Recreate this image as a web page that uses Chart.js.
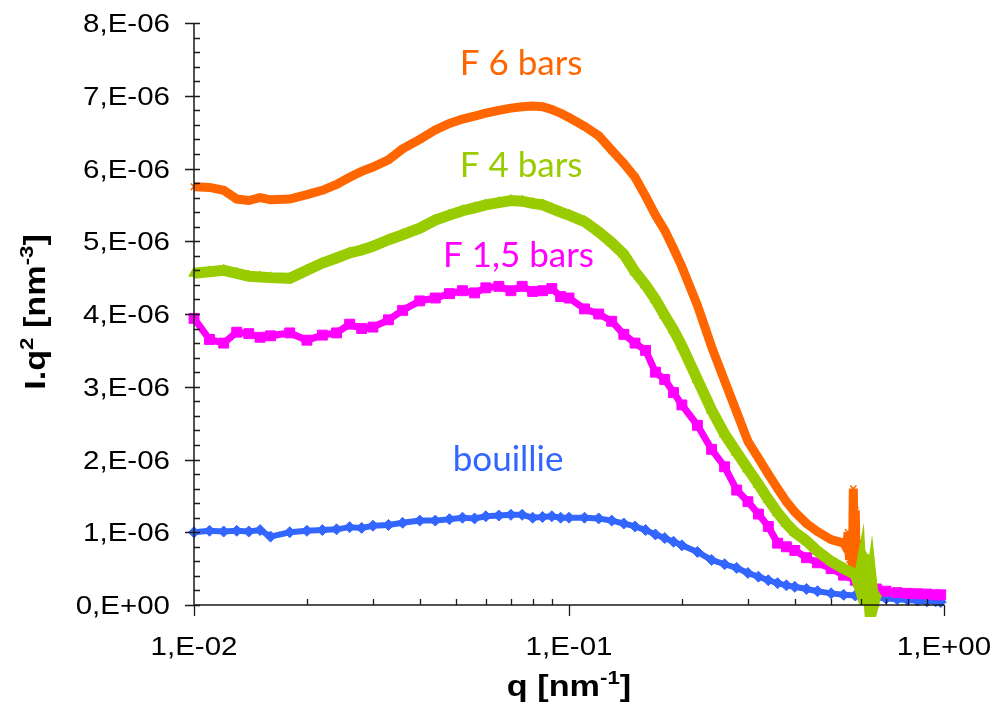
<!DOCTYPE html>
<html><head><meta charset="utf-8">
<script src="https://cdn.jsdelivr.net/npm/chart.js@4.4.1/dist/chart.umd.min.js"></script>
<style>html,body{margin:0;padding:0;background:#fff;}#wrap{width:993px;height:705px;}</style>
</head><body><div id="wrap"><canvas id="c" width="993" height="705"></canvas></div>
<script>
// ---- data (intensity values in units of 1E-06 nm^-3) ----
const qGrid = [0.010,0.011,0.012,0.013,0.014,0.015,0.016,0.018,0.020,0.022,0.024,0.026,0.028,0.030,0.033,0.036,0.040,0.044,0.048,0.052,0.056,0.060,0.065,0.070,0.075,0.080,0.085,0.090,0.095,0.10,0.11,0.12,0.13,0.14,0.15,0.16,0.17,0.18,0.19,0.20,0.22,0.24,0.26,0.28,0.30,0.32,0.34,0.36,0.38,0.40,0.43,0.46,0.50,0.54];

const f6bars = [5.75,5.74,5.70,5.58,5.56,5.60,5.57,5.58,5.64,5.70,5.78,5.88,5.96,6.02,6.12,6.27,6.40,6.53,6.62,6.68,6.72,6.76,6.80,6.83,6.85,6.86,6.85,6.81,6.76,6.70,6.58,6.45,6.25,6.07,5.88,5.62,5.36,5.15,4.90,4.65,4.12,3.55,3.08,2.65,2.25,2.02,1.80,1.60,1.42,1.28,1.12,1.01,0.90,0.85];
const qTail6 = [0.55,0.555,0.56,0.565,0.57,0.573,0.576,0.58,0.583,0.586];
const f6barsTail = [0.78,1.00,0.62,0.95,0.50,1.60,0.70,1.30,0.55,0.90];

const f4bars = [4.56,4.58,4.60,4.56,4.52,4.51,4.50,4.49,4.60,4.70,4.77,4.84,4.88,4.93,5.02,5.09,5.18,5.29,5.36,5.42,5.46,5.50,5.53,5.56,5.55,5.52,5.50,5.45,5.40,5.36,5.27,5.13,4.98,4.82,4.58,4.40,4.20,3.98,3.78,3.56,3.10,2.68,2.35,2.10,1.87,1.66,1.45,1.27,1.12,1.00,0.88,0.74,0.60,0.50];
const qTail4 = [0.58,0.59,0.60,0.605,0.61,0.615,0.62,0.63,0.64,0.65,0.66];
const f4barsTail = [0.42,0.30,0.50,0.15,0.70,0.05,0.55,0.10,0.35,0.02,0.15];

const f15bars = [3.94,3.65,3.60,3.75,3.73,3.68,3.70,3.74,3.64,3.71,3.74,3.86,3.80,3.82,3.92,4.05,4.18,4.22,4.28,4.32,4.29,4.36,4.38,4.32,4.38,4.31,4.32,4.35,4.24,4.22,4.07,4.00,3.90,3.72,3.60,3.50,3.20,3.10,2.92,2.75,2.47,2.14,1.90,1.58,1.42,1.25,1.08,0.85,0.80,0.75,0.65,0.58,0.50,0.41];
const qTailLong = [0.58,0.62,0.66,0.70,0.75,0.80,0.85,0.90,0.95,0.98];
const f15barsTail = [0.34,0.27,0.22,0.19,0.17,0.16,0.155,0.15,0.14,0.14];

const bouillie = [1.00,1.02,1.01,1.02,1.01,1.03,0.94,1.00,1.02,1.03,1.04,1.07,1.06,1.09,1.10,1.13,1.16,1.16,1.18,1.20,1.19,1.22,1.23,1.24,1.24,1.20,1.21,1.22,1.20,1.20,1.20,1.19,1.16,1.12,1.08,1.03,0.97,0.92,0.87,0.82,0.73,0.62,0.56,0.51,0.44,0.39,0.34,0.30,0.27,0.25,0.22,0.19,0.16,0.14];
const bouillieTail = [0.13,0.12,0.10,0.09,0.08,0.07,0.06,0.05,0.05,0.04];

const seriesNames = ['F 6 bars','F 4 bars','F 1,5 bars','bouillie'];
const xTickLabels = ['1,E-02','1,E-01','1,E+00'];
const yTickLabels = ['0,E+00','1,E-06','2,E-06','3,E-06','4,E-06','5,E-06','6,E-06','7,E-06','8,E-06'];
const UNIT = 1e-6;

function pts(qs, vs){ return qs.map((q,i)=>({x:q, y:vs[i]*UNIT})); }

const COLORS = {orange:'#FF6600', green:'#99CC00', magenta:'#FF00FF', blue:'#3366FF'};
const FAM = "'Liberation Sans', Arial, sans-serif";
const STRETCH = 1.18;   // the source text is set slightly wide

const overlay = {
  id:'overlay',
  afterDatasetsDraw(chart){
    const ctx = chart.ctx, xs = chart.scales.x, ys = chart.scales.y, a = chart.chartArea;
    ctx.save();
    // axis lines
    ctx.strokeStyle = '#1a1a1a'; ctx.lineWidth = 1.5;
    ctx.beginPath();
    ctx.moveTo(a.left, a.top); ctx.lineTo(a.left, a.bottom); ctx.lineTo(a.right, a.bottom);
    ctx.stroke();
    // tick marks
    ctx.lineWidth = 1.3;
    ctx.beginPath();
    for (let i = 0; i <= 40; i++) {
      const y = Math.round(ys.getPixelForValue(i*0.2*UNIT)) + 0.5;
      if (i % 5 === 0) { ctx.moveTo(a.left-9, y); ctx.lineTo(a.left+6, y); }
      else { ctx.moveTo(a.left, y); ctx.lineTo(a.left+6, y); }
    }
    [0.01, 0.1].forEach(d => {
      for (let m = 2; m <= 9; m++) {
        const x = Math.round(xs.getPixelForValue(m*d)) + 0.5;
        ctx.moveTo(x, a.bottom); ctx.lineTo(x, a.bottom-6);
      }
    });
    [0.01, 0.1, 1].forEach(v => {
      const x = Math.round(xs.getPixelForValue(v)) + 0.5;
      ctx.moveTo(x, a.bottom); ctx.lineTo(x, a.bottom+11);
    });
    ctx.stroke();

    // tick labels (slightly wide lettering, as in the source)
    ctx.fillStyle = '#000';
    ctx.font = '25px ' + FAM;
    ctx.textBaseline = 'alphabetic';
    yTickLabels.forEach((t, i) => {
      const y = ys.getPixelForValue(i*UNIT);
      ctx.save(); ctx.translate(a.left-24, y+9); ctx.scale(STRETCH, 1);
      ctx.textAlign = 'right'; ctx.fillText(t, 0, 0); ctx.restore();
    });
    xTickLabels.forEach((t, i) => {
      const x = xs.getPixelForValue(Math.pow(10, i-2));
      ctx.save(); ctx.translate(x, a.bottom+50); ctx.scale(STRETCH, 1);
      ctx.textAlign = 'center'; ctx.fillText(t, 0, 0); ctx.restore();
    });

    // series labels
    const labels = [
      {t:seriesNames[0], q:0.0745, v:7.285, c:COLORS.orange},
      {t:seriesNames[1], q:0.0745, v:5.883, c:COLORS.green},
      {t:seriesNames[2], q:0.0733, v:4.646, c:COLORS.magenta},
      {t:seriesNames[3], q:0.0688, v:1.842, c:COLORS.blue}
    ];
    ctx.font = "35px Lato, 'Open Sans', sans-serif";
    ctx.textAlign = 'center'; ctx.textBaseline = 'alphabetic';
    labels.forEach(l => {
      ctx.fillStyle = l.c;
      ctx.fillText(l.t, xs.getPixelForValue(l.q), ys.getPixelForValue(l.v*UNIT));
    });

    // axis titles with superscripts
    function rich(parts, size){
      let total = 0;
      parts.forEach(p => { ctx.font = 'bold ' + (p.s ? size*0.65 : size) + 'px ' + FAM; total += ctx.measureText(p.t).width; });
      let x = -total/2;
      ctx.textAlign = 'left'; ctx.fillStyle = '#000';
      parts.forEach(p => {
        ctx.font = 'bold ' + (p.s ? size*0.65 : size) + 'px ' + FAM;
        ctx.fillText(p.t, x, -(p.s ? size*0.42 : 0));
        x += ctx.measureText(p.t).width;
      });
    }
    ctx.save();
    ctx.translate((a.left+a.right)/2, 696); ctx.scale(STRETCH, 1);
    rich([{t:'q [nm'},{t:'-1',s:1},{t:']'}], 29);
    ctx.restore();
    ctx.save();
    ctx.translate(45, 312); ctx.rotate(-Math.PI/2); ctx.scale(STRETCH, 1);
    rich([{t:'I.q'},{t:'2',s:1},{t:' [nm'},{t:'-3',s:1},{t:']'}], 29);
    ctx.restore();
    ctx.restore();
  }
};

new Chart(document.getElementById('c'), {
  type:'line',
  data:{ datasets:[
    {label:seriesNames[3], data:pts(qGrid,bouillie).concat(pts(qTailLong,bouillieTail)), borderColor:COLORS.blue, backgroundColor:COLORS.blue, borderWidth:6, pointStyle:'rectRot', pointRadius:5.5, pointBorderWidth:1, order:4, clip:12},
    {label:seriesNames[2], data:pts(qGrid,f15bars).concat(pts(qTailLong,f15barsTail)), borderColor:COLORS.magenta, backgroundColor:COLORS.magenta, borderWidth:7, pointStyle:'rect', pointRadius:7, pointBorderWidth:1, order:3, clip:12},
    {label:seriesNames[0], data:pts(qGrid,f6bars).concat(pts(qTail6,f6barsTail)), borderColor:COLORS.orange, backgroundColor:COLORS.orange, borderWidth:9, pointStyle:'crossRot', pointRadius:4.5, pointBorderWidth:1.5, order:2, clip:12},
    {label:seriesNames[1], data:pts(qGrid,f4bars).concat(pts(qTail4,f4barsTail)), borderColor:COLORS.green, backgroundColor:COLORS.green, borderWidth:11, pointStyle:'triangle', pointRadius:6, pointBorderWidth:1, order:1, clip:12}
  ]},
  options:{
    responsive:false, devicePixelRatio:1, animation:false, events:[],
    layout:{padding:{top:23, right:49, left:0, bottom:0}},
    plugins:{legend:{display:false}, tooltip:{enabled:false}},
    elements:{line:{tension:0}},
    scales:{
      x:{type:'logarithmic', min:0.01, max:1, position:'bottom',
         grid:{display:false}, border:{display:false}, ticks:{display:false},
         afterFit:(s)=>{ s.height = 100; }},
      y:{type:'linear', min:0, max:8*UNIT,
         grid:{display:false}, border:{display:false}, ticks:{display:false, stepSize:UNIT},
         afterFit:(s)=>{ s.width = 194; }}
    }
  },
  plugins:[overlay]
});
</script>
</body></html>
